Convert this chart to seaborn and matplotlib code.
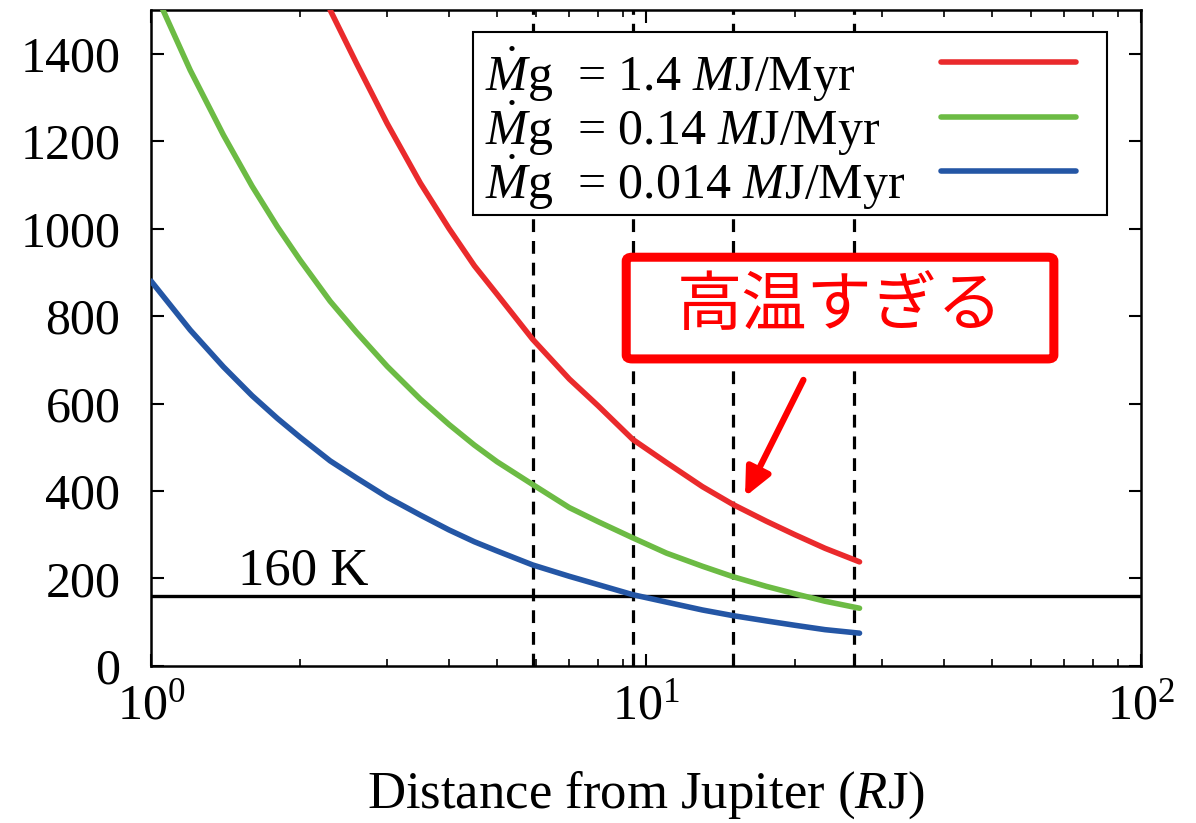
import numpy as np
import pandas as pd
import matplotlib
matplotlib.use("Agg")
import matplotlib.pyplot as plt
import seaborn as sns
from matplotlib.patches import FancyBboxPatch
from matplotlib.ticker import LogLocator
from matplotlib.offsetbox import DrawingArea

# ---- data ----
r_red = [2.3, 2.6, 3, 3.5, 4, 4.5, 5, 5.9, 7, 8, 9.4, 11, 13, 15, 17.5, 20, 23, 27]
t_red = [1500, 1378, 1240, 1104, 1000, 915, 850, 747, 656, 595, 518, 465, 410, 369, 331, 300, 269, 238]
r_green = [1, 1.2, 1.4, 1.6, 1.8, 2, 2.3, 2.6, 3, 3.5, 4, 4.5, 5, 5.9, 7, 8, 9.4, 11, 13, 15, 17.5, 20, 23, 27]
t_green = [1560, 1362, 1214, 1097, 1004, 928, 834, 763, 685, 610, 552, 505, 467, 415, 362, 330, 293,
           258, 228, 204, 182, 165, 148, 132]
r_blue = [1, 1.2, 1.4, 1.6, 1.8, 2, 2.3, 2.6, 3, 3.5, 4, 4.5, 5, 5.9, 7, 8, 9.4, 11, 13, 15, 17.5, 20, 23, 27]
t_blue = [880, 768, 684, 618, 566, 523, 469, 430, 386, 345, 311, 284, 263, 231, 205, 186, 163,
          146, 128, 115, 103, 93, 83, 75]
labels = [r"$\dot{M}$g  = 1.4 $M$J/Myr",
          r"$\dot{M}$g  = 0.14 $M$J/Myr",
          r"$\dot{M}$g  = 0.014 $M$J/Myr"]
colors = ["#ea2a2c", "#6cbb44", "#2456a5"]
moons = [5.9, 9.4, 15.0, 26.3]
snow_line = 160
yticks = [0, 200, 400, 600, 800, 1000, 1200, 1400]

sns.set_theme(style="ticks")
plt.rcParams["font.family"] = ["Liberation Serif", "DejaVu Serif"]
plt.rcParams["mathtext.fontset"] = "custom"
plt.rcParams["mathtext.rm"] = "Liberation Serif"
plt.rcParams["mathtext.it"] = "Liberation Serif:italic"
plt.rcParams["mathtext.bf"] = "Liberation Serif:bold"
for k in ["text.color", "axes.labelcolor", "xtick.color", "ytick.color", "axes.edgecolor"]:
    plt.rcParams[k] = "black"

fig = plt.figure(figsize=(11.96, 8.23), dpi=100)
ax = fig.add_axes([0.1263, 0.1908, 0.8277, 0.7972])

frames = []
for r, t, lab in zip([r_red, r_green, r_blue], [t_red, t_green, t_blue], labels):
    frames.append(pd.DataFrame({"r": r, "T": t, "series": lab}))
df = pd.concat(frames, ignore_index=True)

for lab, col in zip(labels, colors):
    sub = df[df["series"] == lab]
    sns.lineplot(data=sub, x="r", y="T", ax=ax, color=col, lw=4.0,
                 label=lab, sort=True, estimator=None, zorder=3)

ax.axhline(snow_line, color="black", lw=2.4, zorder=2)
for m in moons:
    ax.axvline(m, color="black", lw=2.3, ls=(0, (4.0, 2.8)), zorder=2)

ax.set_xscale("log")
ax.set_xlim(1, 100)
ax.set_ylim(0, 1500)
ax.set_yticks(yticks)
ax.xaxis.set_minor_locator(LogLocator(base=10, subs=np.arange(2, 10)))
ax.tick_params(axis="both", which="major", direction="in", length=9, width=1.5,
               top=True, right=True, labelsize=36)
ax.tick_params(axis="y", which="major", pad=22)
ax.tick_params(axis="x", which="major", pad=12)
ax.tick_params(axis="x", which="minor", direction="in", length=5, width=1.2,
               top=True, bottom=True)
for s in ax.spines.values():
    s.set_linewidth(1.8)

ax.set_xlabel(r"Distance from Jupiter ($R$J)", fontsize=38, labelpad=28)
ax.set_ylabel("")

ax.text(1.5, 162, "160 K", fontsize=38, ha="left", va="bottom")

leg = ax.legend(loc="upper right", bbox_to_anchor=(0.966, 0.966), borderaxespad=0,
                fontsize=36, markerfirst=False, frameon=True, fancybox=False,
                framealpha=1, handlelength=2.7, labelspacing=-0.1, borderpad=0.05,
                handletextpad=0.2)
leg.get_frame().set_edgecolor("black")
leg.get_frame().set_linewidth(1.5)
leg.set_zorder(10)

# left-align legend texts, keep handles in one column, add margins like the reference
fig.canvas.draw()
renderer = fig.canvas.get_renderer()
px2pt = 72.0 / fig.dpi
widths = [t.get_window_extent(renderer).width for t in leg.texts]
column = leg._legend_handle_box.get_children()[0]
column.align = "left"
for item, w in zip(column.get_children(), widths):
    kids = item._children
    text_box, handle_box = kids[0], kids[1]
    mid = DrawingArea((15 + max(widths) - w) * px2pt, 1)
    left = DrawingArea(0, 1)
    right = DrawingArea(19 * px2pt, 1)
    item._children = [left, text_box, mid, handle_box, right]
column._children.insert(0, DrawingArea(1, 15 * px2pt))
for h in leg.legend_handles:
    h.set_ydata(np.asarray(h.get_ydata()) + 8)

box = FancyBboxPatch((0.480, 0.468), 0.432, 0.155,
                     boxstyle="round,pad=0,rounding_size=0.006",
                     transform=ax.transAxes, facecolor="white",
                     edgecolor="#ff0000", lw=6.5, zorder=5)
ax.add_patch(box)
ax.text(0.696, 0.548, "高温すぎる", transform=ax.transAxes, color="#ff0000",
        fontsize=47, ha="center", va="center", zorder=6,
        family=["Noto Sans CJK JP", "DejaVu Sans"])
ax.annotate("", xy=(0.600, 0.258), xytext=(0.659, 0.436),
            xycoords="axes fraction", textcoords="axes fraction",
            arrowprops=dict(arrowstyle="-|>,head_length=1.4,head_width=0.65",
                            color="#ff0000", lw=4.5, shrinkA=0, shrinkB=0),
            zorder=6)

fig.savefig("out.png", dpi=100)
